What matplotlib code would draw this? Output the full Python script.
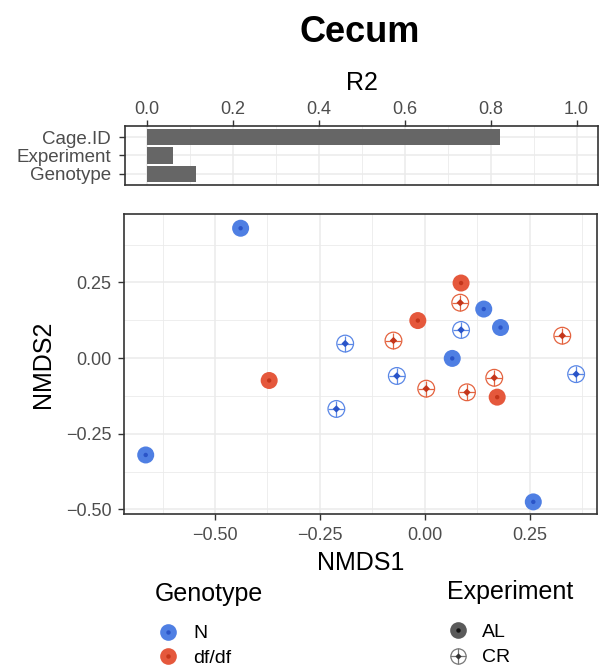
import matplotlib
matplotlib.use('Agg')
import matplotlib.pyplot as plt
from matplotlib.lines import Line2D
from matplotlib.legend_handler import HandlerTuple
from matplotlib.ticker import FixedLocator

plt.rcParams['font.family'] = ['Liberation Sans', 'DejaVu Sans']

# ---------------- data ----------------
r2_terms = ['Cage.ID', 'Experiment', 'Genotype']
r2_values = [0.823, 0.061, 0.115]

n_al_x = [-0.439, -0.665, 0.140, 0.180, 0.065, 0.258]
n_al_y = [0.429, -0.320, 0.162, 0.101, -0.001, -0.475]
n_cr_x = [-0.190, -0.067, -0.211, 0.086, 0.360]
n_cr_y = [0.048, -0.059, -0.168, 0.093, -0.053]
df_al_x = [0.086, -0.017, -0.371, 0.172]
df_al_y = [0.248, 0.124, -0.074, -0.129]
df_cr_x = [0.084, -0.075, 0.003, 0.100, 0.165, 0.327]
df_cr_y = [0.183, 0.058, -0.101, -0.113, -0.065, 0.074]

genotype_labels = ['N', 'df/df']
experiment_labels = ['AL', 'CR']
x_ticks = [-0.50, -0.25, 0.00, 0.25]
y_ticks = [-0.50, -0.25, 0.00, 0.25]
r2_ticks = [0.0, 0.2, 0.4, 0.6, 0.8, 1.0]

# ---------------- style ----------------
BLUE = '#4F7FE3'
BLUE_D = '#2A54C8'
RED = '#E5583C'
RED_D = '#C4361B'
BLUE_CR = '#5A87E6'
RED_CR = '#E4633F'
GRID = '#EBEBEB'
SPINE = '#333333'
TICKLAB = '#4D4D4D'

W, H = 602, 671
fig = plt.figure(figsize=(W / 100, H / 100), dpi=100)


def px_axes(l, t, r, b):
    return fig.add_axes([l / W, 1 - b / H, (r - l) / W, (b - t) / H])


def style_axes(ax):
    for s in ax.spines.values():
        s.set_color(SPINE)
        s.set_linewidth(1.2)
    ax.tick_params(which='major', length=4.3, width=1.0, color=SPINE,
                   labelcolor=TICKLAB, labelsize=13, pad=5)
    ax.tick_params(which='minor', length=0)
    ax.grid(True, which='major', color=GRID, lw=1.1)
    ax.grid(True, which='minor', color=GRID, lw=0.6)
    ax.set_axisbelow(True)


# ---------------- title ----------------
fig.text(360 / W, 1 - 42 / H, 'Cecum', ha='center', va='baseline',
         fontsize=26, weight='bold')

# ---------------- R2 bar panel ----------------
ax1 = px_axes(125, 126, 598, 185)
ypos = list(range(len(r2_terms), 0, -1))
ax1.barh(ypos, r2_values, height=0.9, color='#666666')
ax1.set_xlim(-0.05, 1.05)
ax1.set_ylim(0.4, len(r2_terms) + 0.6)
ax1.set_yticks(ypos)
ax1.set_yticklabels(r2_terms)
ax1.xaxis.set_major_locator(FixedLocator(r2_ticks))
ax1.xaxis.set_minor_locator(FixedLocator([0.1, 0.3, 0.5, 0.7, 0.9]))
ax1.set_xticklabels([f'{v:.1f}' for v in r2_ticks])
ax1.xaxis.tick_top()
ax1.xaxis.set_label_position('top')
style_axes(ax1)
ax1.tick_params(axis='x', which='both', top=True, bottom=False)
ax1.tick_params(axis='x', which='major', pad=1.5)
ax1.tick_params(axis='y', which='major', pad=6)
ax1.set_xlabel('R2', fontsize=18, labelpad=8)
for lab in ax1.get_yticklabels():
    lab.set_fontsize(13.5)

# ---------------- NMDS panel ----------------
ax2 = px_axes(124.3, 214, 596.7, 514)
ax2.set_xlim(-0.716, 0.409)
ax2.set_ylim(-0.515, 0.476)
ax2.xaxis.set_major_locator(FixedLocator(x_ticks))
ax2.yaxis.set_major_locator(FixedLocator(y_ticks))
ax2.xaxis.set_minor_locator(FixedLocator([-0.625, -0.375, -0.125, 0.125, 0.375]))
ax2.yaxis.set_minor_locator(FixedLocator([-0.375, -0.125, 0.125, 0.375]))
ax2.set_xticklabels([f'{v:.2f}'.replace('-', '\u2212') for v in x_ticks])
ax2.set_yticklabels([f'{v:.2f}'.replace('-', '\u2212') for v in y_ticks])
style_axes(ax2)
ax2.set_xlabel('NMDS1', fontsize=18, labelpad=5)
ax2.set_ylabel('NMDS2', fontsize=18, labelpad=8)


def draw_al(xs, ys, c, cd):
    ax2.scatter(xs, ys, s=150, color=c, edgecolors='none', zorder=3)
    ax2.scatter(xs, ys, s=10, color=cd, edgecolors='none', zorder=4)


def draw_cr(xs, ys, c, cd):
    ax2.scatter(xs, ys, s=145, facecolors='none', edgecolors=c, linewidths=0.9, zorder=3)
    ax2.scatter(xs, ys, s=145, marker='+', color=c, linewidths=0.9, zorder=3)
    ax2.scatter(xs, ys, s=14, marker='D', color=cd, edgecolors='none', zorder=4)


draw_al(n_al_x, n_al_y, BLUE, BLUE_D)
draw_cr(n_cr_x, n_cr_y, BLUE_CR, BLUE_D)
draw_al(df_al_x, df_al_y, RED, RED_D)
draw_cr(df_cr_x, df_cr_y, RED_CR, RED_D)

# ---------------- legends ----------------
def al_handle(c, cd):
    return (Line2D([], [], marker='o', ls='', ms=12, color=c, mec='none'),
            Line2D([], [], marker='o', ls='', ms=3.2, color=cd, mec='none'))


def cr_handle(c, cd):
    return (Line2D([], [], marker='o', ls='', ms=11, mfc='none', mec=c, mew=0.9),
            Line2D([], [], marker='+', ls='', ms=11, color=c, mew=0.9),
            Line2D([], [], marker='D', ls='', ms=3.2, color=cd, mec='none'))


hm = {tuple: HandlerTuple(ndivide=1, pad=0)}

leg1 = fig.legend(handles=[al_handle(BLUE, BLUE_D), al_handle(RED, RED_D)],
                  labels=genotype_labels, title='Genotype', handler_map=hm,
                  loc='upper left', bbox_to_anchor=(155 / W, 1 - 582 / H),
                  frameon=False, fontsize=14, title_fontsize=18,
                  alignment='left', borderpad=0, borderaxespad=0,
                  handlelength=1.34, handletextpad=0.62, labelspacing=0.35)
leg1._legend_box.sep = 13.5
leg2 = fig.legend(handles=[al_handle('#5A5A5A', '#111111'), cr_handle('#777777', '#333333')],
                  labels=experiment_labels, title='Experiment', handler_map=hm,
                  loc='upper left', bbox_to_anchor=(447 / W, 1 - 580 / H),
                  frameon=False, fontsize=14, title_fontsize=18,
                  alignment='left', borderpad=0, borderaxespad=0,
                  handlelength=1.13, handletextpad=0.67, labelspacing=0.4)
leg2._legend_box.sep = 14

fig.savefig('out.png', dpi=100)
